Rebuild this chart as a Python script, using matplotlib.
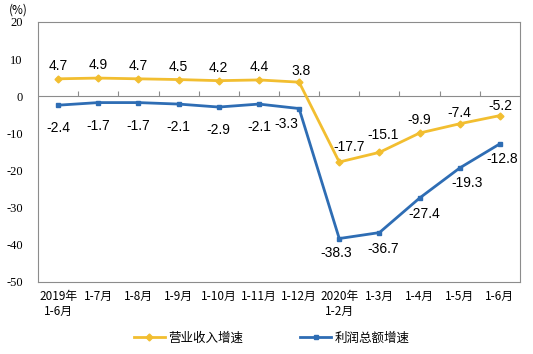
import matplotlib
matplotlib.use('Agg')
import matplotlib.pyplot as plt

plt.rcParams['font.family'] = ['Liberation Sans', 'Noto Sans CJK SC', 'DejaVu Sans']

# 数据
categories = ['2019年\n1-6月', '1-7月', '1-8月', '1-9月', '1-10月', '1-11月', '1-12月',
              '2020年\n1-2月', '1-3月', '1-4月', '1-5月', '1-6月']
revenue = [4.7, 4.9, 4.7, 4.5, 4.2, 4.4, 3.8, -17.7, -15.1, -9.9, -7.4, -5.2]
profit = [-2.4, -1.7, -1.7, -2.1, -2.9, -2.1, -3.3, -38.3, -36.7, -27.4, -19.3, -12.8]
yticks = [20, 10, 0, -10, -20, -30, -40, -50]

# 标签偏移 (像素)
rev_off = [(0, 13)] * 6 + [(2, 11), (10, 15), (4, 17), (0, 13), (0, 11), (0, 10)]
pro_off = [(0, -23)] * 6 + [(-13, -15), (-3, -14), (4, -16), (5, -16), (7, -15), (2, -15)]

yellow = '#F2BE30'
blue = '#2E6DB4'
gray = '#8C8C8C'

fig = plt.figure(figsize=(5.33, 3.54), dpi=100)
ax = fig.add_axes([0.0713, 0.2034, 0.9043, 0.7345])

x = list(range(len(categories)))
ax.plot(x, revenue, color=yellow, lw=2, marker='D', ms=3.5, label='营业收入增速')
ax.plot(x, profit, color=blue, lw=2, marker='s', ms=3.5, label='利润总额增速')

px = 0.72
for i, v in enumerate(revenue):
    dx, dy = rev_off[i]
    ax.annotate(f'{v:.1f}', (i, v), xytext=(dx * px, dy * px), textcoords='offset points',
                ha='center', va='center', fontsize=10)
for i, v in enumerate(profit):
    dx, dy = pro_off[i]
    ax.annotate(f'{v:.1f}', (i, v), xytext=(dx * px, dy * px), textcoords='offset points',
                ha='center', va='center', fontsize=10)

ax.set_xlim(-0.5, len(categories) - 0.5)
ax.set_ylim(-50, 20)
ax.set_yticks(yticks)
ax.set_yticklabels([str(t) for t in yticks], fontsize=9, family=['Liberation Serif'])
ax.tick_params(axis='y', length=0, pad=11)
ax.set_xticks(x)
ax.set_xticklabels(categories, fontsize=8.5, family=['Noto Sans CJK SC'], linespacing=1.15)
ax.tick_params(axis='x', length=0, pad=6)
for lbl in ax.get_xticklabels():
    lbl.set_verticalalignment('top')

for s in ax.spines.values():
    s.set_color(gray)
    s.set_linewidth(0.8)

# 零线及分类间刻度
ax.axhline(0, color=gray, lw=0.8, zorder=1)
ax.vlines([i + 0.5 for i in x[:-1]], 0, 1.4, color=gray, lw=0.8, zorder=1)

fig.text(0.034, 0.972, '(%)', fontsize=8.5, family=['Noto Sans CJK SC'], ha='center', va='center')

fig.legend(loc='center', bbox_to_anchor=(0.51, 0.045), ncol=2, frameon=False,
           prop={'family': 'Noto Sans CJK SC', 'size': 9}, columnspacing=4.5,
           handlelength=2.5, handletextpad=0.3)

fig.savefig('out.png', dpi=100)
